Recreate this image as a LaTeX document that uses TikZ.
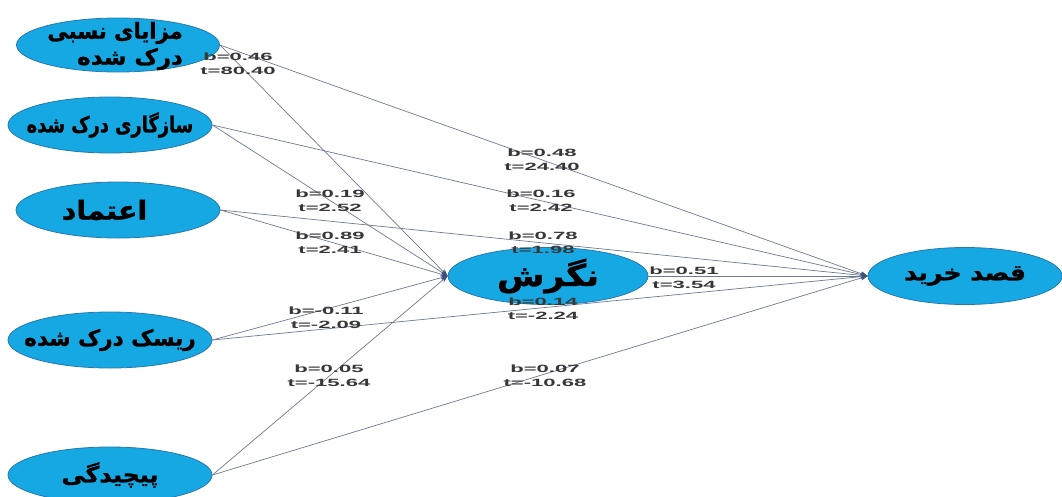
\documentclass[tikz,border=0pt]{standalone}
\usepackage{fontspec}
\setmainfont{Liberation Sans}
\newfontfamily\fa[Script=Arabic, BoldFeatures={FakeBold=1.2}]{DejaVu Sans}
\TeXXeTstate=1
\usetikzlibrary{shapes.geometric,arrows.meta}
\definecolor{ellfill}{RGB}{22,168,226}
\definecolor{elldraw}{RGB}{40,120,175}
\definecolor{edgecol}{RGB}{110,122,145}
\definecolor{tipcol}{RGB}{55,80,125}
\definecolor{lblcol}{RGB}{55,55,55}
\newcommand\st[1]{\scalebox{2.1}[1]{#1}}
\newcommand\lb[2]{\st{#1}\\\st{#2}}
% #1 font size, #2 x-scale, #3 text
\newcommand\fat[3]{\makebox[0pt]{\fontsize{#1}{#1}\selectfont\scalebox{#2}[1]{\fa\bfseries #3}}}
\tikzset{
  var/.style={ellipse, draw=elldraw, line width=0.8pt, fill=ellfill, inner sep=0pt,
    minimum width=204pt, minimum height=56pt, text=black, align=center},
  path/.style={draw=edgecol, line width=0.7pt, -{Stealth[length=7pt,width=5pt,color=tipcol]}},
  lbl/.style={font=\bfseries\fontsize{10.5}{14}\selectfont, text=lblcol, align=center, inner sep=0pt}
}
\begin{document}
\begin{tikzpicture}[x=1pt,y=-1pt]
\path[use as bounding box, fill=white] (0,0) rectangle (1062,496);
\node[var, minimum width=203pt, minimum height=54pt] (n1) at (118,45) {};
\node[inner sep=0pt, anchor=east] (n1a) at (183,33) {\fontsize{22}{22}\selectfont\scalebox{0.96}[1]{\fa\bfseries\beginR مزایای نسبی\endR}};
\node[inner sep=0pt, anchor=east] (n1b) at (183,59) {\fontsize{22}{22}\selectfont\scalebox{1.04}[1]{\fa\bfseries\beginR درک شده\endR}};
\node[var] (n2) at (110,125) {\fat{22}{0.81}{\beginR سازگاری درک شده\endR}};
\node[var] (n3) at (118,210) {\fat{26}{1.1}{\beginR اعتماد\endR}\hspace*{27pt}};
\node[var] (n4) at (110,340) {\fat{22}{0.98}{\beginR ریسک درک شده\endR}};
\node[var] (n5) at (110,475) {\fat{22}{1.08}{\beginR پیچیدگی\endR}};
\node[var, minimum width=200pt, minimum height=57pt] (att) at (548,276) {\fat{30}{1.15}{\beginR نگرش\endR}};
\node[var, minimum width=194pt, minimum height=57pt] (int) at (965,276) {\fat{22}{1.14}{\beginR قصد خرید\endR}};
\foreach \s in {n1,n2,n3,n4,n5}{
  \draw[path] (\s.east) -- (att.west);
  \draw[path] (\s.east) -- (int.west);
}
\draw[path] (att.east) -- (int.west);
\node[lbl] (l1) at (238,64) {\lb{b=0.46}{t=80.40}};
\node[lbl] (l2) at (330,201) {\lb{b=0.19}{t=2.52}};
\node[lbl] (l3) at (330,243) {\lb{b=0.89}{t=2.41}};
\node[lbl] (l4) at (326,318) {\lb{b=-0.11}{t=-2.09}};
\node[lbl] (l5) at (329,376) {\lb{b=0.05}{t=-15.64}};
\node[lbl] (l6) at (542,160) {\lb{b=0.48}{t=24.40}};
\node[lbl] (l7) at (541,201) {\lb{b=0.16}{t=2.42}};
\node[lbl] (l8) at (543,243) {\lb{b=0.78}{t=1.98}};
\node[lbl] (l9) at (543,309) {\lb{b=0.14}{t=-2.24}};
\node[lbl] (l10) at (545,376) {\lb{b=0.07}{t=-10.68}};
\node[lbl] (l11) at (684,278) {\lb{b=0.51}{t=3.54}};
\end{tikzpicture}
\end{document}
